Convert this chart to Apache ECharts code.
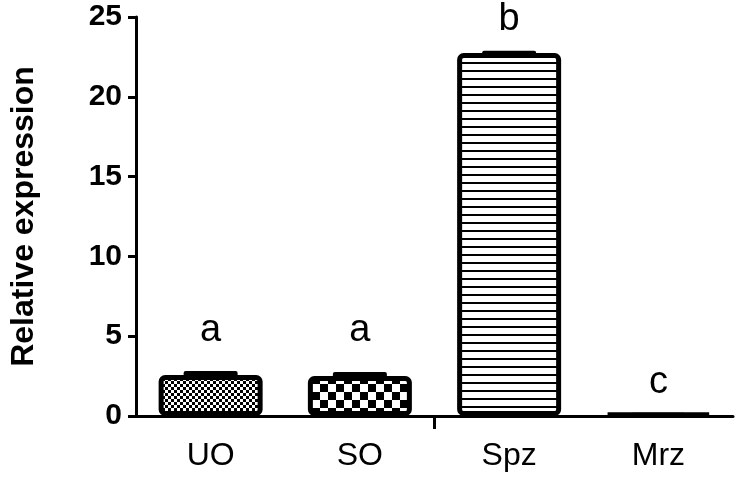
<!DOCTYPE html>
<html>
<head>
<meta charset="utf-8">
<script src="https://cdn.jsdelivr.net/npm/echarts@6/dist/echarts.min.js"></script>
<style>html,body{margin:0;padding:0;background:#fff;}#c{width:736px;height:480px;}</style>
</head>
<body>
<div id="c"></div>
<script>
var categories = ['UO', 'SO', 'Spz', 'Mrz'];
var means = [2.57, 2.5, 22.74, 0.15];
var errors = [0.25, 0.25, 0.15, 0.05];
var letters = ['a', 'a', 'b', 'c'];
var letterPos = [5.33, 5.33, 24.87, 2.1];
var yTicks = [0, 5, 10, 15, 20, 25];
var xBreakTicks = [2];

function makePattern(type) {
  var c = document.createElement('canvas');
  var ctx;
  if (type === 'fine') {
    c.width = 6; c.height = 6; ctx = c.getContext('2d');
    ctx.fillStyle = '#fff'; ctx.fillRect(0, 0, 6, 6);
    ctx.fillStyle = '#000'; ctx.fillRect(0, 0, 3, 3); ctx.fillRect(3, 3, 3, 3);
  } else if (type === 'coarse') {
    c.width = 16; c.height = 16; ctx = c.getContext('2d');
    ctx.fillStyle = '#fff'; ctx.fillRect(0, 0, 16, 16);
    ctx.fillStyle = '#000'; ctx.fillRect(0, 0, 8, 8); ctx.fillRect(8, 8, 8, 8);
  } else if (type === 'hstripe') {
    c.width = 8; c.height = 8; ctx = c.getContext('2d');
    ctx.fillStyle = '#fff'; ctx.fillRect(0, 0, 8, 8);
    ctx.fillStyle = '#000'; ctx.fillRect(0, 6, 8, 2);
  } else {
    c.width = 4; c.height = 4; ctx = c.getContext('2d');
    ctx.fillStyle = '#000'; ctx.fillRect(0, 0, 4, 4);
  }
  return { image: c, repeat: 'repeat' };
}
var patterns = ['fine', 'coarse', 'hstripe', 'solid'];

var chart = echarts.init(document.getElementById('c'), null, { renderer: 'canvas' });
var font = '"Liberation Sans", Arial, sans-serif';

chart.setOption({
  animation: false,
  backgroundColor: '#fff',
  grid: { left: 133, right: 3, top: 17, bottom: 64, containLabel: false },
  xAxis: [{
    type: 'category',
    data: categories,
    boundaryGap: true,
    axisLine: { lineStyle: { color: '#000', width: 3 } },
    axisTick: { show: false },
    axisLabel: { color: '#000', fontSize: 32, fontFamily: font, margin: 24 }
  }, {
    type: 'value',
    position: 'bottom',
    min: 0, max: categories.length,
    axisLine: { show: false },
    axisLabel: { show: false },
    splitLine: { show: false },
    axisTick: { show: true, length: 13, customValues: xBreakTicks, lineStyle: { color: '#000', width: 3 } }
  }],
  yAxis: {
    type: 'value',
    min: yTicks[0], max: yTicks[yTicks.length - 1], interval: 5,
    name: 'Relative expression',
    nameLocation: 'middle',
    nameGap: 96,
    nameTextStyle: { color: '#000', fontSize: 32, fontWeight: 'bold', fontFamily: font },
    axisLine: { show: true, lineStyle: { color: '#000', width: 3 } },
    axisTick: { show: true, length: 8, lineStyle: { color: '#000', width: 3 } },
    axisLabel: { color: '#000', fontSize: 30, fontWeight: 'bold', fontFamily: font, margin: 14 },
    splitLine: { show: false }
  },
  series: [
    {
      type: 'bar',
      barWidth: 104,
      data: means.map(function (v, i) {
        return { value: v, itemStyle: { color: makePattern(patterns[i]) } };
      }),
      itemStyle: { borderColor: '#000', borderWidth: 5, borderRadius: 4 },
      z: 2
    },
    {
      type: 'custom',
      data: means.map(function (v, i) { return [i, v, v + errors[i]]; }),
      renderItem: function (params, api) {
        var base = api.coord([api.value(0), api.value(1)]);
        var top = api.coord([api.value(0), api.value(2)]);
        var half = 27;
        return {
          type: 'rect',
          shape: { x: top[0] - half, y: top[1], width: half * 2, height: Math.max(base[1] - top[1], 1) + 2, r: 2 },
          style: { fill: '#000' }
        };
      },
      z: 3
    },
    {
      type: 'scatter',
      symbolSize: 0,
      itemStyle: { opacity: 1 },
      data: letterPos.map(function (v, i) { return [i, v]; }),
      label: {
        show: true,
        position: 'inside',
        opacity: 1,
        formatter: function (p) { return letters[p.dataIndex]; },
        color: '#000', fontSize: 38, fontFamily: font
      },
      z: 4
    }
  ]
});
</script>
</body>
</html>
